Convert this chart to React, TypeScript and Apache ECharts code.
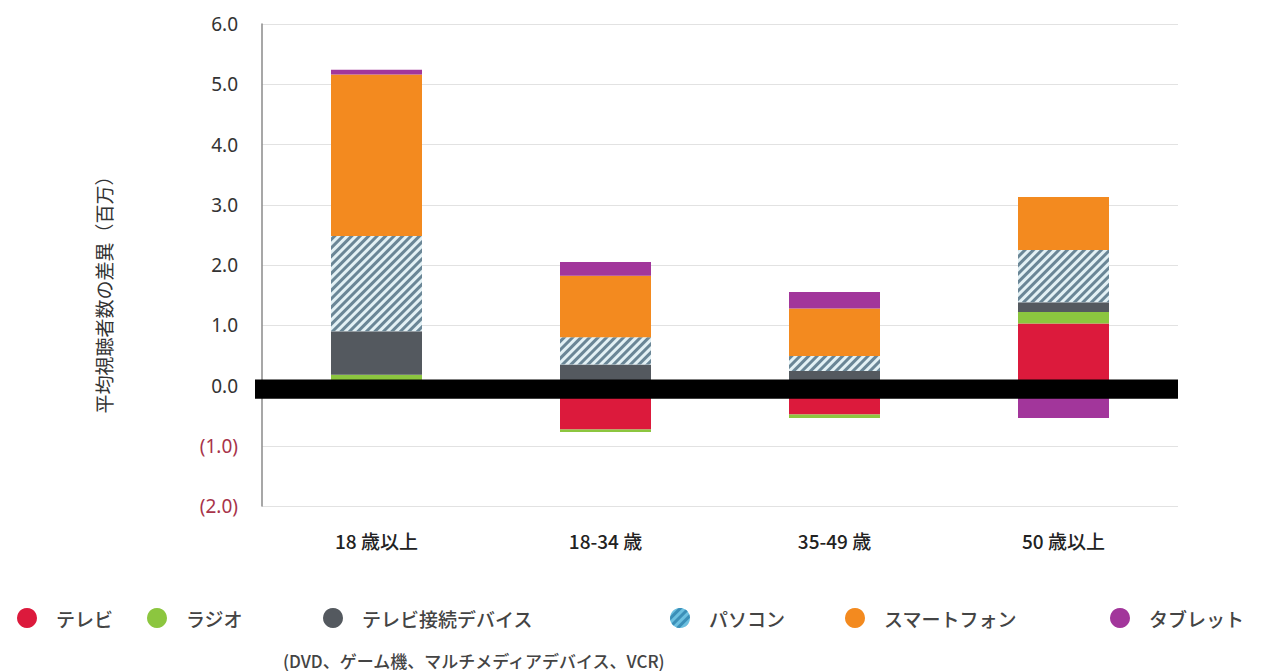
import React, { useEffect, useRef } from "react";
import * as echarts from "echarts";

const categories = ["18 歳以上", "18-34 歳", "35-49 歳", "50 歳以上"];
const seriesNames = ["テレビ", "ラジオ", "テレビ接続デバイス", "パソコン", "スマートフォン", "タブレット"];
const tvValues = [0, -0.73, -0.48, 1.03];
const radioValues = [0.18, -0.04, -0.06, 0.19];
const connectedValues = [0.72, 0.35, 0.24, 0.16];
const pcValues = [1.58, 0.45, 0.25, 0.87];
const smartphoneValues = [2.68, 1.02, 0.79, 0.88];
const tabletValues = [0.08, 0.23, 0.27, -0.54];
const yTicks = [-2, -1, 0, 1, 2, 3, 4, 5, 6];
const zeroBand = [0.1, -0.22];
const yTitle = "平均視聴者数の差異（百万）";
const legendNote = "(DVD、ゲーム機、マルチメディアデバイス、VCR)";

const colors = ["#dc1a3c", "#8cc63f", "#54595f", "#e3f1f5", "#f38a1f", "#a2369b"];
const legendLefts = [17, 147, 323, 670, 845, 1110];

const CJK = "'Noto Sans CJK JP', sans-serif";
const NARROW = "'Liberation Sans Narrow', 'Noto Sans CJK JP', sans-serif";

const pcDecal = {
  symbol: "rect",
  symbolSize: 1,
  color: "#6a8696",
  dashArrayX: [1, 0],
  dashArrayY: [2.2, 2.6],
  rotation: -Math.PI / 4,
};

export default function App() {
  const ref = useRef<HTMLDivElement>(null);
  useEffect(() => {
    if (!ref.current) return;
    const chart = echarts.init(ref.current, null, { renderer: "svg" });
    const values = [tvValues, radioValues, connectedValues, pcValues, smartphoneValues, tabletValues];
    const barSeries = seriesNames.map((name, i) => ({
      name,
      type: "bar",
      stack: "total",
      barWidth: 91,
      data: values[i],
      itemStyle: i === 3 ? { color: colors[i], decal: pcDecal } : { color: colors[i] },
      emphasis: { disabled: true },
    }));
    const legends = seriesNames.map((name, i) => ({
      left: legendLefts[i],
      top: 608,
      padding: 0,
      icon: "circle",
      itemWidth: 20,
      itemHeight: 20,
      selectedMode: false,
      data: [
        i === 3
          ? { name, itemStyle: { color: "#6cc0e0", decal: { ...pcDecal, color: "#3b8fb8" } } }
          : { name },
      ],
      textStyle: { fontFamily: CJK, fontSize: 19, fontWeight: 500, color: "#444", padding: [0, 0, 0, 14] },
    }));
    chart.setOption({
      animation: false,
      grid: { left: 262, right: 89, top: 24, bottom: 165 },
      legend: legends,
      xAxis: {
        type: "category",
        data: categories,
        axisLine: { show: false },
        axisTick: { show: false },
        axisLabel: { margin: 25, fontFamily: NARROW, fontSize: 19, fontWeight: 500, color: "#222" },
      },
      yAxis: {
        type: "value",
        min: yTicks[0],
        max: yTicks[yTicks.length - 1],
        interval: 1,
        axisLine: { show: true, lineStyle: { color: "#8a8a8a", width: 1.5 } },
        axisTick: { show: false },
        splitLine: { lineStyle: { color: "#e2e2e2", width: 1 } },
        axisLabel: {
          margin: 24,
          fontFamily: "'Noto Sans', sans-serif",
          fontSize: 19,
          color: "#333",
          formatter: (v: number) => (v < 0 ? `{neg|(${Math.abs(v).toFixed(1)})}` : v.toFixed(1)),
          rich: { neg: { color: "#a8344a", fontFamily: "'Noto Sans', sans-serif", fontSize: 19 } },
        },
      },
      graphic: [
        {
          type: "text",
          x: 103,
          y: 290,
          rotation: Math.PI / 2,
          style: {
            text: yTitle,
            fontFamily: CJK,
            fontSize: 19,
            fill: "#333",
            align: "center",
            verticalAlign: "middle",
          },
        },
        {
          type: "text",
          x: 283,
          y: 660,
          style: {
            text: legendNote,
            fontFamily: NARROW,
            fontSize: 17,
            fontWeight: 500,
            fill: "#444",
            align: "left",
            verticalAlign: "middle",
          },
        },
      ],
      series: [
        ...barSeries,
        {
          type: "custom",
          z: 10,
          silent: true,
          data: [[0, 0]],
          renderItem: (params: any, api: any) => {
            const cs = params.coordSys;
            const top = api.coord([0, zeroBand[0]]);
            const bot = api.coord([0, zeroBand[1]]);
            return {
              type: "rect",
              shape: { x: cs.x - 7, y: top[1], width: cs.width + 7, height: bot[1] - top[1] },
              style: { fill: "#000" },
            };
          },
        },
      ],
    });
    return () => chart.dispose();
  }, []);
  return (
    <div
      ref={ref}
      style={{ position: "fixed", left: 0, top: 0, width: 1267, height: 671, background: "#fff" }}
    />
  );
}
